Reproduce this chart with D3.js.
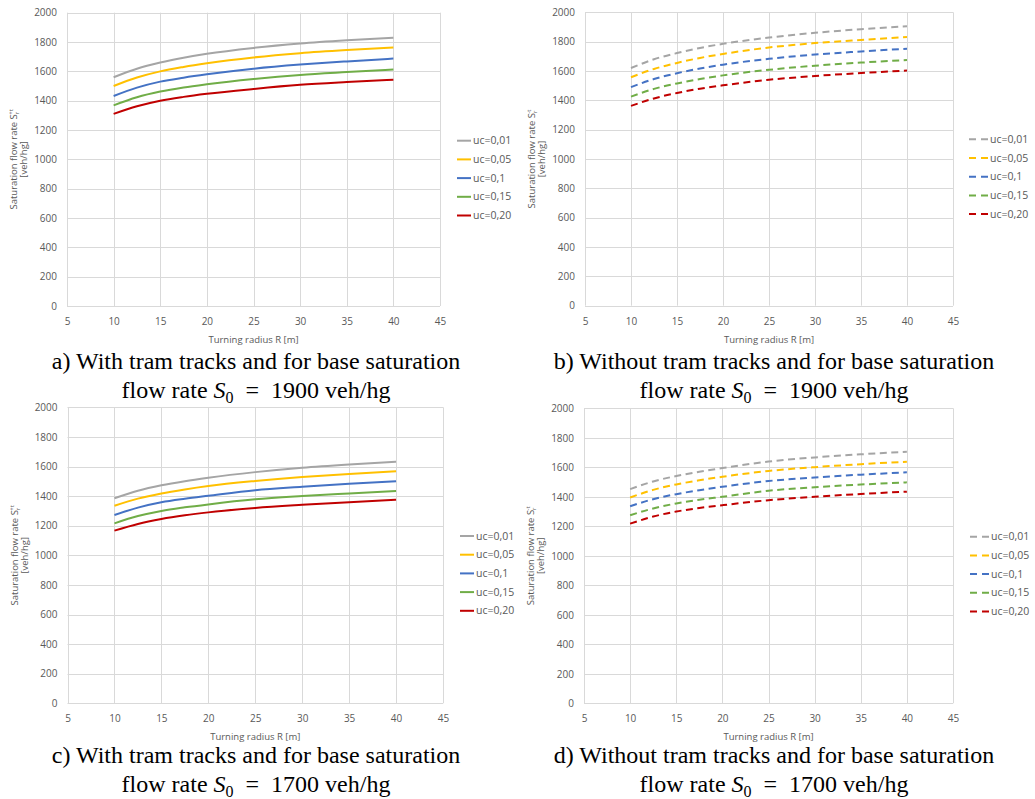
<!DOCTYPE html>
<html>
<head>
<meta charset="utf-8">
<script src="https://cdn.jsdelivr.net/npm/d3@7"></script>
<style>
  body { margin: 0; background: #fff; }
  svg { display: block; }
  .tick text { font-family: "Open Sans", sans-serif; font-size: 10px; fill: #595959; }
  .lbl { font-family: "Open Sans", sans-serif; fill: #595959; }
  .cap { font-family: "Liberation Serif", "Times New Roman", serif; font-size: 24px; fill: #000; }
</style>
</head>
<body>
<div id="chart"></div>
<script>
// turning radius values (x)
const radius = [10, 12.5, 15, 17.5, 20, 25, 30, 35, 40]
const ucLabels = ["uc=0,01", "uc=0,05", "uc=0,1", "uc=0,15", "uc=0,20"]
const ucColors = ["#a5a5a5", "#ffc000", "#4472c4", "#70ad47", "#c00000"]
const xTicks = [5, 10, 15, 20, 25, 30, 35, 40, 45]
const yTicks = [0, 200, 400, 600, 800, 1000, 1200, 1400, 1600, 1800, 2000]

// a) with tram tracks, S0 = 1900
const withTram1900 = [
    [1560, 1618, 1660, 1693, 1720, 1760, 1790, 1812, 1830],
    [1500, 1558, 1600, 1630, 1655, 1695, 1724, 1745, 1762],
    [1432, 1489, 1530, 1557, 1580, 1618, 1646, 1668, 1687],
    [1368, 1423, 1462, 1490, 1512, 1548, 1576, 1595, 1612],
    [1310, 1362, 1400, 1426, 1447, 1480, 1508, 1527, 1543],
]
// b) without tram tracks, S0 = 1900
const noTram1900 = [
    [1620, 1680, 1722, 1757, 1785, 1828, 1860, 1885, 1905],
    [1557, 1614, 1655, 1689, 1716, 1760, 1790, 1812, 1832],
    [1490, 1545, 1585, 1617, 1643, 1683, 1712, 1733, 1752],
    [1425, 1478, 1515, 1545, 1570, 1608, 1636, 1657, 1675],
    [1362, 1413, 1450, 1479, 1502, 1540, 1566, 1586, 1603],
]
// c) with tram tracks, S0 = 1700
const withTram1700 = [
    [1385, 1436, 1473, 1501, 1524, 1562, 1592, 1614, 1632],
    [1335, 1383, 1418, 1445, 1468, 1502, 1529, 1550, 1568],
    [1272, 1322, 1358, 1382, 1402, 1440, 1463, 1483, 1501],
    [1216, 1265, 1300, 1324, 1344, 1378, 1400, 1418, 1435],
    [1167, 1212, 1245, 1270, 1290, 1320, 1341, 1359, 1375],
]
// d) without tram tracks, S0 = 1700
const noTram1700 = [
    [1452, 1504, 1541, 1570, 1595, 1639, 1667, 1688, 1705],
    [1395, 1447, 1484, 1512, 1536, 1575, 1601, 1621, 1638],
    [1336, 1384, 1418, 1445, 1468, 1507, 1531, 1550, 1566],
    [1275, 1321, 1355, 1380, 1400, 1441, 1465, 1483, 1498],
    [1218, 1266, 1300, 1324, 1343, 1377, 1400, 1419, 1435],
]

const svg = d3.select("#chart").append("svg")
    .attr("width", 1035)
    .attr("height", 799)

const panels = [
    { data: withTram1900, dashed: false, sign: "+t", x0: 67, x1: 440, y0: 12.7, y1: 306,
      legX: 457, legY: 140.7, capX: 256, capY: 369, letter: "a) With", s0: "1900" },
    { data: noTram1900, dashed: true, sign: "-t", x0: 585, x1: 953, y0: 12.3, y1: 305.7,
      legX: 969, legY: 139.3, capX: 774, capY: 369, letter: "b) Without", s0: "1900" },
    { data: withTram1700, dashed: false, sign: "+t", x0: 67.5, x1: 443, y0: 407.3, y1: 703.3,
      legX: 460, legY: 536, capX: 256, capY: 763, letter: "c) With", s0: "1700" },
    { data: noTram1700, dashed: true, sign: "-t", x0: 584, x1: 953, y0: 408.3, y1: 703.3,
      legX: 970, legY: 536.7, capX: 774, capY: 763, letter: "d) Without", s0: "1700" },
]

panels.forEach(p => {
    const xScale = d3.scaleLinear().domain([5, 45]).range([p.x0, p.x1])
    const yScale = d3.scaleLinear().domain([0, 2000]).range([p.y1, p.y0])

    const g = svg.append("g")

    // gridlines
    g.append("g").selectAll("line")
        .data(yTicks)
        .join("line")
        .attr("x1", p.x0).attr("x2", p.x1)
        .attr("y1", d => Math.round(yScale(d)) + 0.5)
        .attr("y2", d => Math.round(yScale(d)) + 0.5)
        .attr("stroke", "#d9d9d9")
    g.append("g").selectAll("line")
        .data(xTicks)
        .join("line")
        .attr("x1", d => Math.round(xScale(d)) + 0.5)
        .attr("x2", d => Math.round(xScale(d)) + 0.5)
        .attr("y1", p.y0).attr("y2", p.y1)
        .attr("stroke", "#d9d9d9")

    // axes (labels only)
    const yAxis = g.append("g")
        .attr("transform", `translate(${p.x0 - 10},0)`)
        .call(d3.axisLeft(yScale).tickValues(yTicks).tickFormat(d3.format("d")).tickSize(0).tickPadding(0))
    yAxis.select(".domain").remove()

    const xAxis = g.append("g")
        .attr("transform", `translate(0,${p.y1 + 12})`)
        .call(d3.axisBottom(xScale).tickValues(xTicks).tickSize(0).tickPadding(0))
    xAxis.select(".domain").remove()

    // axis titles
    g.append("text")
        .attr("class", "lbl")
        .attr("x", (p.x0 + p.x1) / 2)
        .attr("y", p.y1 + 37)
        .attr("text-anchor", "middle")
        .style("font-size", "9.5px")
        .text("Turning radius R [m]")

    const yMid = (p.y0 + p.y1) / 2
    const yt = g.append("text")
        .attr("class", "lbl")
        .attr("transform", `translate(${p.x0 - 50},${yMid}) rotate(-90)`)
        .attr("text-anchor", "middle")
        .style("font-size", "9.5px")
    yt.append("tspan").text("Saturation flow rate S")
    yt.append("tspan").attr("dy", 2).style("font-size", "6px").text("r")
    yt.append("tspan").attr("dx", -3).attr("dy", -6).style("font-size", "6px").text(p.sign)
    g.append("text")
        .attr("class", "lbl")
        .attr("transform", `translate(${p.x0 - 40},${yMid}) rotate(-90)`)
        .attr("text-anchor", "middle")
        .style("font-size", "9.5px")
        .text("[veh/hg]")

    // series
    const line = d3.line()
        .x((d, i) => xScale(radius[i]))
        .y(d => yScale(d))
        .curve(d3.curveMonotoneX)

    g.append("g").selectAll("path")
        .data(p.data)
        .join("path")
        .attr("d", line)
        .attr("fill", "none")
        .attr("stroke", (d, i) => ucColors[i])
        .attr("stroke-width", 2)
        .attr("stroke-dasharray", p.dashed ? "7,4.5" : null)

    // legend
    const leg = g.append("g").selectAll("g")
        .data(ucLabels)
        .join("g")
        .attr("transform", (d, i) => `translate(${p.legX},${p.legY + i * 18.7})`)
    leg.append("line")
        .attr("x1", 0).attr("x2", p.dashed ? 19 : 14)
        .attr("stroke", (d, i) => ucColors[i])
        .attr("stroke-width", 2)
        .attr("stroke-dasharray", p.dashed ? "7,5" : null)
    leg.append("text")
        .attr("class", "lbl")
        .attr("x", p.dashed ? 21 : 16)
        .attr("dy", "0.35em")
        .style("font-size", "10.5px")
        .text(d => d)

    // caption
    g.append("text")
        .attr("class", "cap")
        .attr("x", p.capX)
        .attr("y", p.capY)
        .attr("text-anchor", "middle")
        .text(`${p.letter} tram tracks and for base saturation`)
    const c2 = g.append("text")
        .attr("class", "cap")
        .attr("x", p.capX)
        .attr("y", p.capY + 29)
        .attr("text-anchor", "middle")
    c2.append("tspan").text("flow rate ")
    c2.append("tspan").style("font-style", "italic").text("S")
    c2.append("tspan").attr("dy", 5).style("font-size", "16px").text("0")
    c2.append("tspan").attr("dy", -5).text(`\u2002=\u2002${p.s0} veh/hg`)
})
</script>
</body>
</html>
